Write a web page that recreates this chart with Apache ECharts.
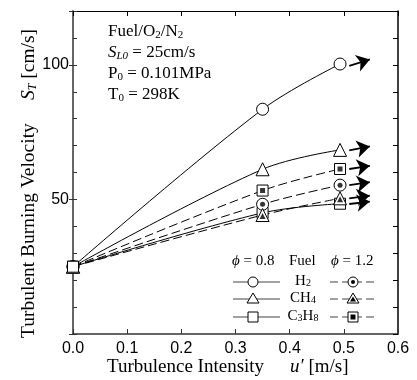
<!DOCTYPE html>
<html><head><meta charset="utf-8">
<script src="https://cdn.jsdelivr.net/npm/echarts@6/dist/echarts.min.js"></script>
<style>html,body{margin:0;padding:0;background:#fff}#c{width:417px;height:380px}</style>
</head><body><div id="c"></div>
<script>
// ---- data ----
var uPrime = [0, 0.35, 0.493];
var h2_08  = [25, 83.5, 100.3];
var ch4_08 = [25, 61.2, 68.4];
var c3h8_08 = [25, 45.0, 48.4];
var h2_12  = [25, 48.2, 55.3];
var ch4_12 = [25, 44.2, 50.4];
var c3h8_12 = [25, 53.3, 61.3];
// arrows (trend beyond last point)
var arrowX = [0.51, 0.548];
var arrowH2_08 = [99.6, 102.0];
var arrowCH4_08 = [68.2, 69.7];
var arrowC3H8_08 = [48.3, 49.2];
var arrowH2_12 = [55.3, 56.4];
var arrowCH4_12 = [50.4, 51.4];
var arrowC3H8_12 = [61.3, 62.5];
var xTicks = [0, 0.1, 0.2, 0.3, 0.4, 0.5, 0.6];
var yLabels = [50, 100];

var SERIF = '"Liberation Serif","Times New Roman",serif';
var SANS = '"Liberation Sans",Arial,sans-serif';

function pts(ys){ return uPrime.map(function(x,i){return [x, ys[i]];}); }
function arrowPts(ys){ return [[arrowX[0], ys[0]], [arrowX[1], ys[1]]]; }

function curve(name, ys, sym, dashed, size){
  return {
    name: name, type: 'line', data: pts(ys), smooth: 0.35,
    symbol: sym, symbolSize: size, showSymbol: true,
    lineStyle: {color: '#000', width: 1, type: dashed ? [9,4] : 'solid'},
    itemStyle: {color: '#fff', borderColor: '#000', borderWidth: 1},
    z: 3, animation: false
  };
}
function inner(name, ys, sym, size, off){
  return {
    name: name, type: 'scatter', data: pts(ys).slice(1),
    symbol: sym, symbolSize: size, symbolOffset: off || [0,0],
    itemStyle: {color: '#000'}, z: 5, animation: false
  };
}
function arrow(ys){
  return {
    type: 'lines', coordinateSystem: 'cartesian2d', polyline: false,
    data: [{coords: arrowPts(ys)}],
    symbol: ['none', 'arrow'], symbolSize: [0, 13],
    lineStyle: {color: '#000', width: 1.8, opacity: 1},
    z: 4, animation: false
  };
}

var chart = echarts.init(document.getElementById('c'), null, {renderer: 'canvas'});

// legend graphics
var lg = [];
var rowsY = [282, 299, 317];
var names = ['H{sub|2}', 'CH{sub|4}', 'C{sub|3}H{sub|8}'];
var rich = {sub: {fontFamily: SERIF, fontSize: 10, verticalAlign: 'bottom', lineHeight: 12, padding: [6,0,0,0]}};
var phiRich = {i:{fontStyle:'italic', fontFamily:SERIF, fontSize:15}};
lg.push({type:'text', left: 232, top: 254, style:{text:'{i|ϕ} = 0.8', fontFamily:SERIF, fontSize:15, fill:'#000', rich:phiRich}});
lg.push({type:'text', left: 289, top: 254, style:{text:'Fuel', fontFamily:SERIF, fontSize:15, fill:'#000'}});
lg.push({type:'text', left: 331, top: 254, style:{text:'{i|ϕ} = 1.2', fontFamily:SERIF, fontSize:15, fill:'#000', rich:phiRich}});
rowsY.forEach(function(y, r){
  lg.push({type:'line', shape:{x1:233,y1:y,x2:280,y2:y}, style:{stroke:'#444', lineWidth:1.2}});
  lg.push({type:'line', shape:{x1:330,y1:y,x2:376,y2:y}, style:{stroke:'#444', lineWidth:1.2, lineDash:[8,4]}});
  lg.push({type:'text', x: 303, y: y-1, style:{text: names[r], fontFamily:SERIF, fontSize:15, fill:'#000', align:'center', verticalAlign:'middle', rich: rich}});
  var mk = [[253, false],[353, true]];
  mk.forEach(function(m){
    var cx = m[0], filled = m[1];
    if (r === 0){
      lg.push({type:'circle', shape:{cx:cx, cy:y, r:5}, style:{fill:'#fff', stroke:'#000', lineWidth:1}, z:10});
      if (filled) lg.push({type:'circle', shape:{cx:cx, cy:y, r:2}, style:{fill:'#000'}, z:11});
    } else if (r === 1){
      lg.push({type:'polygon', shape:{points:[[cx,y-6],[cx-6,y+4],[cx+6,y+4]]}, style:{fill:'#fff', stroke:'#000', lineWidth:1}, z:10});
      if (filled) lg.push({type:'polygon', shape:{points:[[cx,y-2.5],[cx-3,y+2.5],[cx+3,y+2.5]]}, style:{fill:'#000'}, z:11});
    } else {
      lg.push({type:'rect', shape:{x:cx-5, y:y-5, width:10, height:10}, style:{fill:'#fff', stroke:'#000', lineWidth:1}, z:10});
      if (filled) lg.push({type:'rect', shape:{x:cx-2.5, y:y-2.5, width:5, height:5}, style:{fill:'#000'}, z:11});
    }
  });
});

var annRich = {
  sub: {fontFamily: SERIF, fontSize: 11, verticalAlign: 'bottom', lineHeight: 12, padding: [7,0,0,0]},
  i: {fontFamily: SERIF, fontSize: 17, fontStyle: 'italic'},
  isub: {fontFamily: SERIF, fontSize: 11, fontStyle: 'italic', verticalAlign: 'bottom', lineHeight: 12, padding: [7,0,0,0]}
};
var ann = ['Fuel/O{sub|2}/N{sub|2}', '{i|S}{isub|L0} = 25cm/s', 'P{sub|0} = 0.101MPa', 'T{sub|0} = 298K'];
ann.forEach(function(t, k){
  lg.push({type:'text', x: 108, y: 32 + k*21, style:{text:t, fontFamily:SERIF, fontSize:17, fill:'#000', verticalAlign:'middle', rich: annRich}});
});
// axis titles
lg.push({type:'text', x: 107, y: 367, style:{text:'Turbulence Intensity', fontFamily:SERIF, fontSize:19, fill:'#000', align:'left', verticalAlign:'middle'}});
lg.push({type:'text', x: 290, y: 367, style:{text:'{i|u′} [m/s]', fontFamily:SERIF, fontSize:19, fill:'#000', align:'left', verticalAlign:'middle', rich:{i:{fontFamily:SERIF, fontSize:19, fontStyle:'italic'}}}});
lg.push({type:'text', x: 29, y: 338, rotation: Math.PI/2, style:{text:'Turbulent Burning Velocity', fontFamily:SERIF, fontSize:19.5, fill:'#000', align:'left', verticalAlign:'middle'}});
lg.push({type:'text', x: 29, y: 100, rotation: Math.PI/2, style:{text:'{i|S}{isub|T} [cm/s]', fontFamily:SERIF, fontSize:19.5, fill:'#000', align:'left', verticalAlign:'middle', rich:{i:{fontFamily:SERIF, fontSize:19.5, fontStyle:'italic'}, isub:{fontFamily:SERIF, fontSize:12, fontStyle:'italic', verticalAlign:'bottom', lineHeight:12, padding:[8,0,0,0]}}}});

var option = {
  animation: false,
  backgroundColor: '#fff',
  grid: {left: 73, right: 19, top: 11, bottom: 46, outerBoundsMode: 'none', containLabel: false},
  xAxis: [
    {type:'value', position:'bottom', min:0, max:0.6, interval:0.1,
     axisLine:{show:true, lineStyle:{color:'#333', width:1.5}},
     axisTick:{show:true, inside:true, length:5, lineStyle:{color:'#333'}},
     axisLabel:{show:true, fontFamily:SANS, fontSize:16, color:'#000', margin:7,
       formatter:function(v){ return xTicks.indexOf(Math.round(v*10)/10) >= 0 ? v.toFixed(1) : ''; }},
     splitLine:{show:false}},
    {type:'value', position:'top', min:0, max:0.6, interval:0.1,
     axisLine:{show:true, onZero:false, lineStyle:{color:'#000', width:1}},
     axisTick:{show:true, inside:true, length:5, lineStyle:{color:'#000'}},
     axisLabel:{show:false}, splitLine:{show:false}}
  ],
  yAxis: [
    {type:'value', position:'left', min:0, max:120, interval:50,
     axisLine:{show:true, lineStyle:{color:'#666', width:2}},
     axisTick:{show:true, inside:false, length:4, lineStyle:{color:'#333'}},
     axisLabel:{show:true, fontFamily:SANS, fontSize:16, color:'#000', margin:4,
       formatter:function(v){ return yLabels.indexOf(v) >= 0 ? String(v) : ''; }},
     splitLine:{show:false}},
    {type:'value', position:'right', min:0, max:120, interval:10,
     axisLine:{show:true, onZero:false, lineStyle:{color:'#000', width:1.5}},
     axisTick:{show:true, inside:true, length:5, lineStyle:{color:'#000'}},
     axisLabel:{show:false}, splitLine:{show:false}},
    {type:'value', position:'left', min:0, max:120, interval:10,
     axisLine:{show:false},
     axisTick:{show:true, inside:true, length:4, lineStyle:{color:'#333'}},
     axisLabel:{show:false}, splitLine:{show:false}}
  ],
  series: [
    curve('H2 0.8', h2_08, 'circle', false, 12),
    curve('CH4 0.8', ch4_08, 'triangle', false, 13),
    curve('C3H8 0.8', c3h8_08, 'rect', false, 11),
    curve('H2 1.2', h2_12, 'circle', true, 12),
    curve('CH4 1.2', ch4_12, 'triangle', true, 13),
    curve('C3H8 1.2', c3h8_12, 'rect', true, 11),
    inner('H2 1.2 dot', h2_12, 'circle', 5),
    inner('CH4 1.2 in', ch4_12, 'triangle', 6, [0, 1]),
    inner('C3H8 1.2 in', c3h8_12, 'rect', 5),
    arrow(arrowH2_08), arrow(arrowCH4_08), arrow(arrowC3H8_08),
    arrow(arrowH2_12), arrow(arrowCH4_12), arrow(arrowC3H8_12)
  ],
  graphic: lg
};
chart.setOption(option);
</script></body></html>
